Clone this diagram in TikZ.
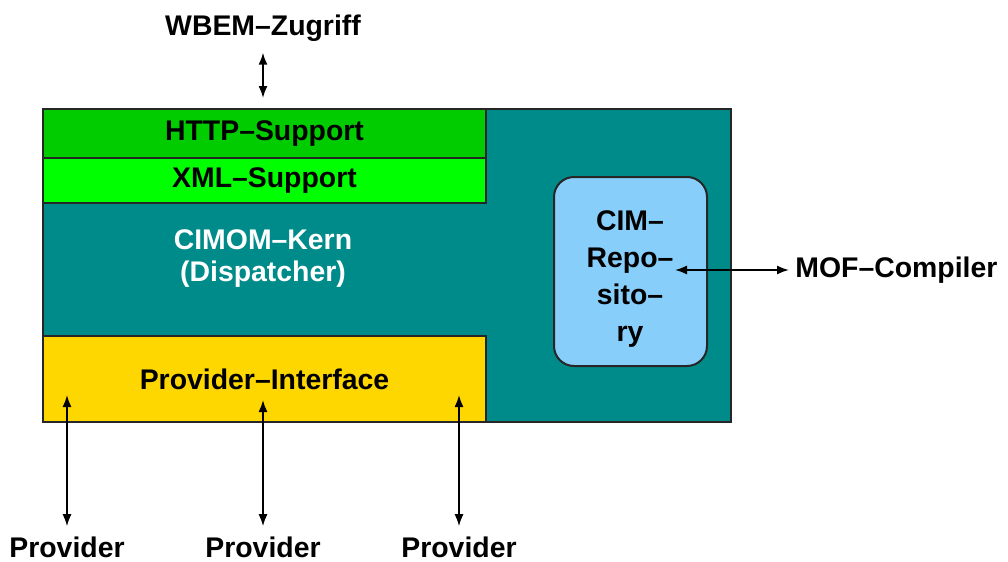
\documentclass[tikz,border=0pt]{standalone}
\usepackage{fontspec}
\setmainfont{Liberation Sans}
\usetikzlibrary{arrows.meta,positioning}
\definecolor{kernteal}{RGB}{0,139,139}
\definecolor{httpgreen}{RGB}{0,204,0}
\definecolor{xmlgreen}{RGB}{0,255,0}
\definecolor{ifacegold}{RGB}{255,215,0}
\definecolor{repoblue}{RGB}{135,206,250}
\begin{document}
\begin{tikzpicture}[x=0.5pt,y=-0.5pt,
  every node/.style={font=\bfseries\fontsize{14.2}{16}\selectfont,inner sep=0pt},
  layer/.style={draw=black!85,line width=1pt,anchor=north west},
  biarrow/.style={line width=0.8pt,{Latex[length=6pt,width=4.5pt]}-{Latex[length=6pt,width=4.5pt]}}]
\useasboundingbox (0,0) rectangle (1008,562);

% the server block and its layers
\node[layer,fill=kernteal,minimum width=344pt,minimum height=156.5pt] (cimom) at (42,108) {};
\node[layer,fill=httpgreen,minimum width=221.5pt,minimum height=24.5pt] (http) at (42,108) {HTTP--Support};
\node[layer,fill=xmlgreen,minimum width=221.5pt,minimum height=22.5pt] (xml) at (42,157) {XML--Support};
\node[layer,fill=ifacegold,minimum width=221.5pt,minimum height=43pt] (iface) at (42,335) {\raisebox{-1.5pt}{Provider--Interface}};
\node[text=white,align=center] (kern) at (263,259) {CIMOM--Kern\\(Dispatcher)};
\node[layer,fill=repoblue,rounded corners=10pt,minimum width=76.5pt,minimum height=94.5pt] (repo) at (553,176) {};
\node[align=center,font=\bfseries\fontsize{14.2}{18.5}\selectfont] (repotext) at (630,279)
      {CIM--\\Repo--\\sito--\\ry};

% outside
\node (wbem) at (263,28) {WBEM--Zugriff};
\node[anchor=west] (mof) at (795,270) {MOF--Compiler};
\coordinate (repotip) at (675,270);
\draw[biarrow,shorten <=5.5pt,shorten >=5pt] (wbem.south) -- (http.north -| wbem);
\draw[biarrow,shorten >=3pt] (repotip) -- (mof.west);

\foreach \i/\x/\t in {1/67/395,2/263/400,3/459/395}{
  \node (prov\i) at (\x,547) {Provider};
  \coordinate (top\i) at (\x,\t);
  \draw[biarrow,shorten <=5pt] (prov\i.north) -- (top\i);
}
\end{tikzpicture}
\end{document}
